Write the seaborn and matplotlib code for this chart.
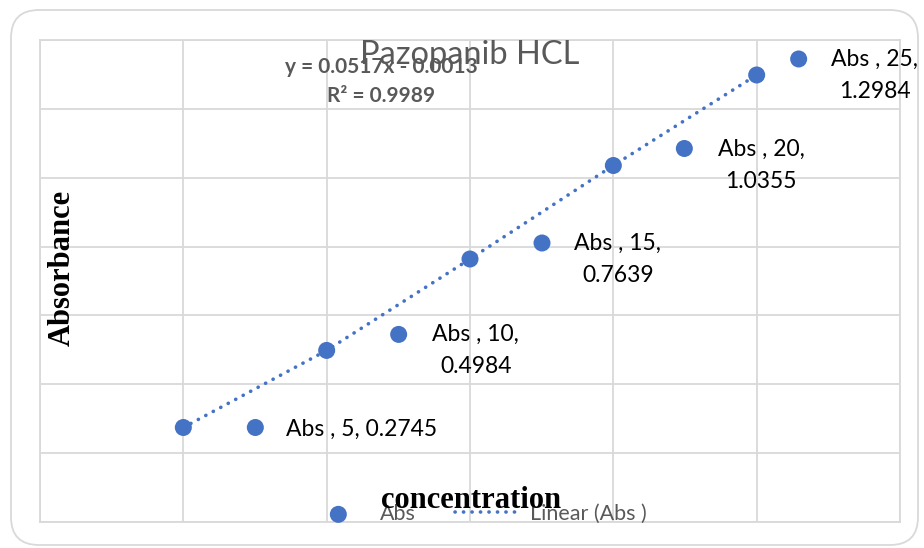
import matplotlib
matplotlib.use("Agg")
import matplotlib.pyplot as plt
import matplotlib.transforms as mtransforms
from matplotlib.patches import FancyBboxPatch
import seaborn as sns
import pandas as pd

# ---- data ----
concentration = [5, 10, 15, 20, 25]
absorbance = [0.2745, 0.4984, 0.7639, 1.0355, 1.2984]
series_name = "Abs "
slope = 0.0517
intercept = -0.0013
r_squared = 0.9989
title = "Pazopanib HCL"
x_label = "concentration"
y_label = "Absorbance"

df = pd.DataFrame({"conc": concentration, "abs": absorbance})

sns.set_theme(style="white")
plt.rcParams["font.family"] = ["Lato", "DejaVu Sans"]

BLUE = "#4472C4"
GRID = "#D9D9D9"
GRAYTXT = "#595959"

fig = plt.figure(figsize=(9.24, 5.48), dpi=100)
W, H = 924, 548
ax = fig.add_axes([40 / W, 1 - 522 / H, 860 / W, 482 / H])

# outer rounded chart border
border = FancyBboxPatch((11, 3), 907, 535, boxstyle="round,pad=0,rounding_size=28",
                        transform=mtransforms.IdentityTransform(), fill=False,
                        edgecolor=GRID, linewidth=1.3)
fig.add_artist(border)

# dotted connecting line and markers
sns.lineplot(data=df, x="conc", y="abs", ax=ax, color=BLUE, linewidth=2.6,
             linestyle=(0, (0.05, 2.3)), label="Linear (Abs )", zorder=3)
ax.lines[-1].set_dash_capstyle("round")
sns.scatterplot(data=df, x="conc", y="abs", ax=ax, color=BLUE, s=150,
                edgecolor="none", label="Abs", zorder=4)

ax.set_xlim(0, 30)
ax.set_ylim(0, 1.4)
ax.set_xticks(range(0, 31, 5))
ax.set_yticks([i * 0.2 for i in range(8)])
ax.tick_params(left=False, bottom=False, labelleft=False, labelbottom=False)
ax.grid(True, color=GRID, linewidth=1.3)
for sp in ax.spines.values():
    sp.set_color(GRID)
    sp.set_linewidth(1.3)
ax.set_xlabel("")
ax.set_ylabel("")
ax.get_legend().remove()

# data labels with legend keys (pixel offsets: key dx, key dy, text dx, text dy)
label_style = [(72, 0, 103, -2, "left"),
               (72, 16, 149, 0, "center"),
               (72, 16, 148, 0, "center"),
               (71, 17, 148, 0, "center"),
               (42, 16, 118, 0, "center")]
for (xv, yv), (kdx, kdy, tdx, tdy, ha) in zip(zip(concentration, absorbance), label_style):
    tr = mtransforms.offset_copy(ax.transData, fig=fig, x=kdx, y=kdy, units="dots")
    ax.scatter([xv], [yv], s=150, color=BLUE, edgecolor="none", transform=tr,
               zorder=4, clip_on=False)
    if ha == "left":
        txt = f"{series_name}, {xv}, {yv}"
    else:
        txt = f"{series_name}, {xv},\n{yv}"
    ax.annotate(txt, (xv, yv), xytext=(tdx, tdy), textcoords="offset pixels",
                ha=ha, va="center", multialignment="center", fontsize=16.5,
                color="#000000", linespacing=1.65, annotation_clip=False)

# title and trendline equation
fig.text(470 / W, 1 - 55 / H, title, ha="center", va="center", fontsize=23.5,
         color=GRAYTXT)
fig.text(381 / W, 1 - 67 / H, f"y = {slope}x - {abs(intercept):.4f}",
         ha="center", va="center", fontsize=15, fontweight="bold", color=GRAYTXT)
fig.text(381 / W, 1 - 96 / H, f"R² = {r_squared}", ha="center", va="center",
         fontsize=15, fontweight="bold", color=GRAYTXT)

# legend
handles, labels = ax.get_legend_handles_labels()
order = [labels.index("Abs"), labels.index("Linear (Abs )")]
leg = fig.legend([handles[i] for i in order], [labels[i] for i in order],
                 loc="center", bbox_to_anchor=(476 / W, 1 - 514 / H), ncol=2,
                 frameon=False, fontsize=15.5, handlelength=3.1, handletextpad=0.4,
                 columnspacing=1.8, labelcolor=GRAYTXT)

# axis titles
fig.text(62 / W, 1 - 268 / H, y_label, rotation=90, ha="center", va="center",
         fontsize=22, fontweight="bold", family=["Liberation Serif"], color="black",
         zorder=6)
fig.text(471 / W, 1 - 500 / H, x_label, ha="center", va="center",
         fontsize=22, fontweight="bold", family=["Liberation Serif"], color="black",
         zorder=6)

fig.savefig("out.png", dpi=100)
